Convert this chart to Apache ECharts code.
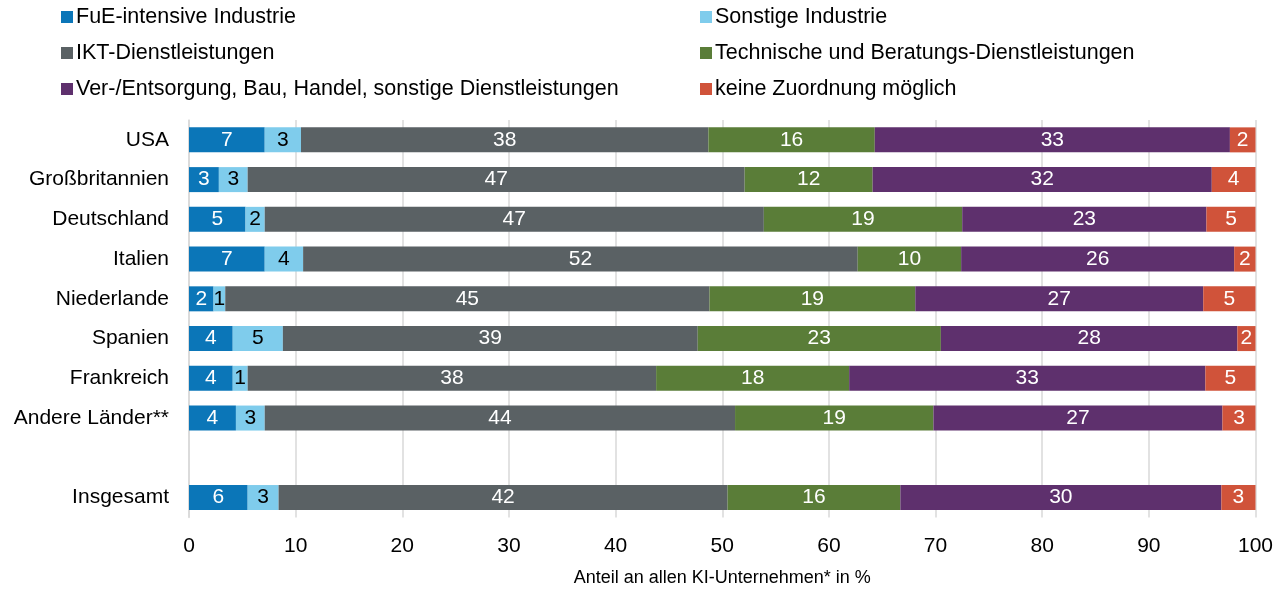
<!DOCTYPE html>
<html>
<head>
<meta charset="utf-8">
<script src="https://cdn.jsdelivr.net/npm/echarts@6/dist/echarts.min.js"></script>
<style>
  html, body { margin: 0; padding: 0; background: #fff; }
  #chart { width: 1283px; height: 590px; }
</style>
</head>
<body>
<div id="chart"></div>
<script>
// Countries, top to bottom ('' is the empty spacer row)
const countries = ['USA', 'Großbritannien', 'Deutschland', 'Italien', 'Niederlande',
  'Spanien', 'Frankreich', 'Andere Länder**', '', 'Insgesamt'];

// Shares in % per sector (labels show rounded values)
const fueIntensiv   = [7.1, 2.8, 5.3, 7.1, 2.3, 4.1, 4.1, 4.4, null, 5.5];
const sonstigeInd   = [3.4, 2.7, 1.8, 3.6, 1.1, 4.7, 1.4, 2.7, null, 2.9];
const iktDienste    = [38.2, 46.6, 46.8, 52.0, 45.4, 38.9, 38.3, 44.1, null, 42.1];
const technBeratung = [15.6, 12.0, 18.6, 9.7, 19.3, 22.8, 18.1, 18.6, null, 16.2];
const verEntsorgung = [33.3, 31.8, 22.9, 25.6, 27.0, 27.8, 33.4, 27.1, null, 30.1];
const keineZuord    = [2.4, 4.1, 4.6, 2.0, 4.9, 1.7, 4.7, 3.1, null, 3.2];

const xTicks = [0, 10, 20, 30, 40, 50, 60, 70, 80, 90, 100];

const font = '"Liberation Sans", Arial, sans-serif';

function bar(name, data, color, labelColor) {
  return {
    name: name,
    type: 'bar',
    stack: 'total',
    data: data,
    barWidth: 25,
    itemStyle: { color: color },
    label: {
      show: true,
      position: 'inside',
      color: labelColor,
      fontFamily: font,
      fontSize: 21,
      formatter: (p) => (p.value == null ? '' : Math.round(p.value))
    },
    emphasis: { disabled: true }
  };
}

const legendText = { fontSize: 21.5, color: '#000', fontFamily: font, padding: [0, 0, 0, -2] };

const chart = echarts.init(document.getElementById('chart'));
chart.setOption({
  animation: false,
  textStyle: { fontFamily: font },
  legend: [
    {
      orient: 'vertical',
      left: 56,
      top: 1,
      icon: 'rect',
      itemWidth: 12,
      itemHeight: 12,
      itemGap: 14,
      selectedMode: false,
      textStyle: legendText,
      data: ['FuE-intensive Industrie', 'IKT-Dienstleistungen',
        'Ver-/Entsorgung, Bau, Handel, sonstige Dienstleistungen']
    },
    {
      orient: 'vertical',
      left: 695,
      top: 1,
      icon: 'rect',
      itemWidth: 12,
      itemHeight: 12,
      itemGap: 14,
      selectedMode: false,
      textStyle: legendText,
      data: ['Sonstige Industrie', 'Technische und Beratungs-Dienstleistungen',
        'keine Zuordnung möglich']
    }
  ],
  grid: {
    left: 189, right: 27.5, top: 120, bottom: 72.6,
    containLabel: false,
    outerBoundsMode: 'none'
  },
  xAxis: {
    type: 'value',
    min: 0,
    max: 100,
    interval: 10,
    axisLine: { show: false },
    axisTick: { show: false },
    axisLabel: {
      fontSize: 21,
      color: '#000',
      margin: 18,
      formatter: (v) => (xTicks.includes(v) ? String(v) : '')
    },
    splitLine: { show: true, lineStyle: { color: '#d9d9d9', width: 1.5 } },
    name: 'Anteil an allen KI-Unternehmen* in %',
    nameLocation: 'middle',
    nameGap: 52,
    nameTextStyle: { fontSize: 18, color: '#000', fontFamily: font }
  },
  yAxis: {
    type: 'category',
    inverse: true,
    data: countries,
    axisLine: { show: true, lineStyle: { color: '#d9d9d9', width: 1.5 } },
    axisTick: { show: false },
    axisLabel: { fontSize: 21, color: '#000', margin: 20 }
  },
  series: [
    bar('FuE-intensive Industrie', fueIntensiv, '#0B76B8', '#fff'),
    bar('Sonstige Industrie', sonstigeInd, '#7FCCEC', '#000'),
    bar('IKT-Dienstleistungen', iktDienste, '#5A6164', '#fff'),
    bar('Technische und Beratungs-Dienstleistungen', technBeratung, '#5A7D38', '#fff'),
    bar('Ver-/Entsorgung, Bau, Handel, sonstige Dienstleistungen', verEntsorgung, '#5E306D', '#fff'),
    bar('keine Zuordnung möglich', keineZuord, '#D0533A', '#fff')
  ]
});
</script>
</body>
</html>
